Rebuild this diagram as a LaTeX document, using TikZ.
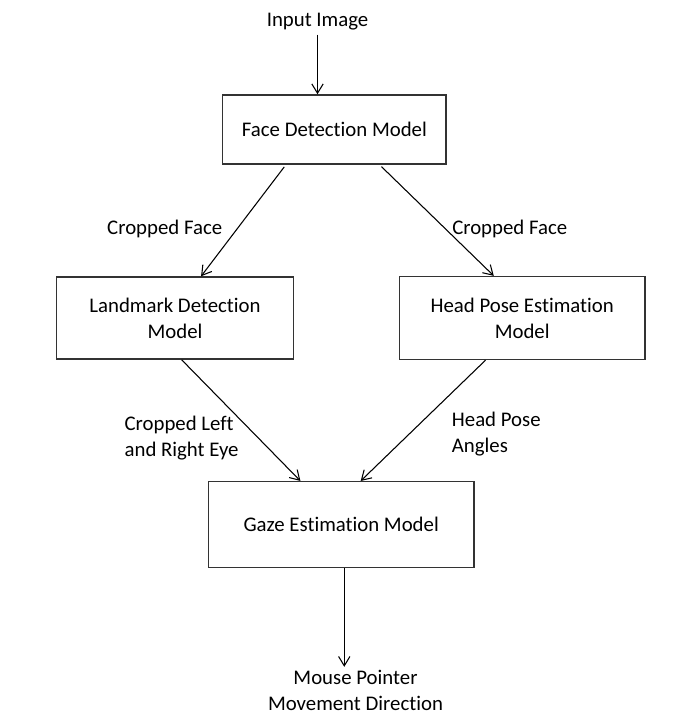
\documentclass[tikz,border=0pt]{standalone}
\usepackage{fontspec}
\setmainfont[Ligatures=NoCommon]{Carlito}
\usetikzlibrary{arrows.meta}

\begin{document}
\begin{tikzpicture}[x=0.75pt, y=-0.75pt,
  every node/.style={font=\fontsize{15.6}{19.5}\selectfont, inner sep=2pt},
  model/.style={draw=black!80, line width=1.1pt, align=center},
  flow/.style={-{Straight Barb[length=7pt,width=8.5pt]}, line width=0.8pt}]
  \useasboundingbox (0,0) rectangle (677,723);
  \node (input) at (317.5,22) {Input Image};
  \node[model, minimum width=167.5pt, minimum height=51.75pt] (face) at (334.4,129.5) {Face Detection Model};
  \node[model, minimum width=177.5pt, minimum height=61.5pt] (land) at (175,318) {Landmark Detection\\Model};
  \node[model, minimum width=184.3pt, minimum height=62.1pt] (head) at (522.2,318) {Head Pose Estimation\\Model};
  \node[model, minimum width=199.3pt, minimum height=64.5pt] (gaze) at (341.2,524.7) {Gaze Estimation Model};
  \node[align=center] (out) at (355.5,690) {Mouse Pointer\\Movement Direction};
  % edge labels
  \node (lblFL) at (164.7,228.5) {Cropped Face};
  \node (lblFH) at (509.7,229) {Cropped Face};
  \node[anchor=west, align=left] (lblLG) at (121.7,438.5) {Cropped Left\\and Right Eye};
  \node[anchor=west, align=left] (lblHG) at (449,434) {Head Pose\\Angles};
  % connectors
  \draw[flow] ([yshift=-1pt]input.south) -- (input.south |- face.north);
  \draw[flow, shorten <=2pt] (face.216) -- (land.58);
  \draw[flow, shorten <=2pt] (face.322) -- (head.124);
  \draw[flow] (land.279) -- (gaze.133);
  \draw[flow] (head.229.5) -- (gaze.66);
  \draw[flow] (gaze.274) -- (gaze.274 |- out.north);
\end{tikzpicture}
\end{document}
